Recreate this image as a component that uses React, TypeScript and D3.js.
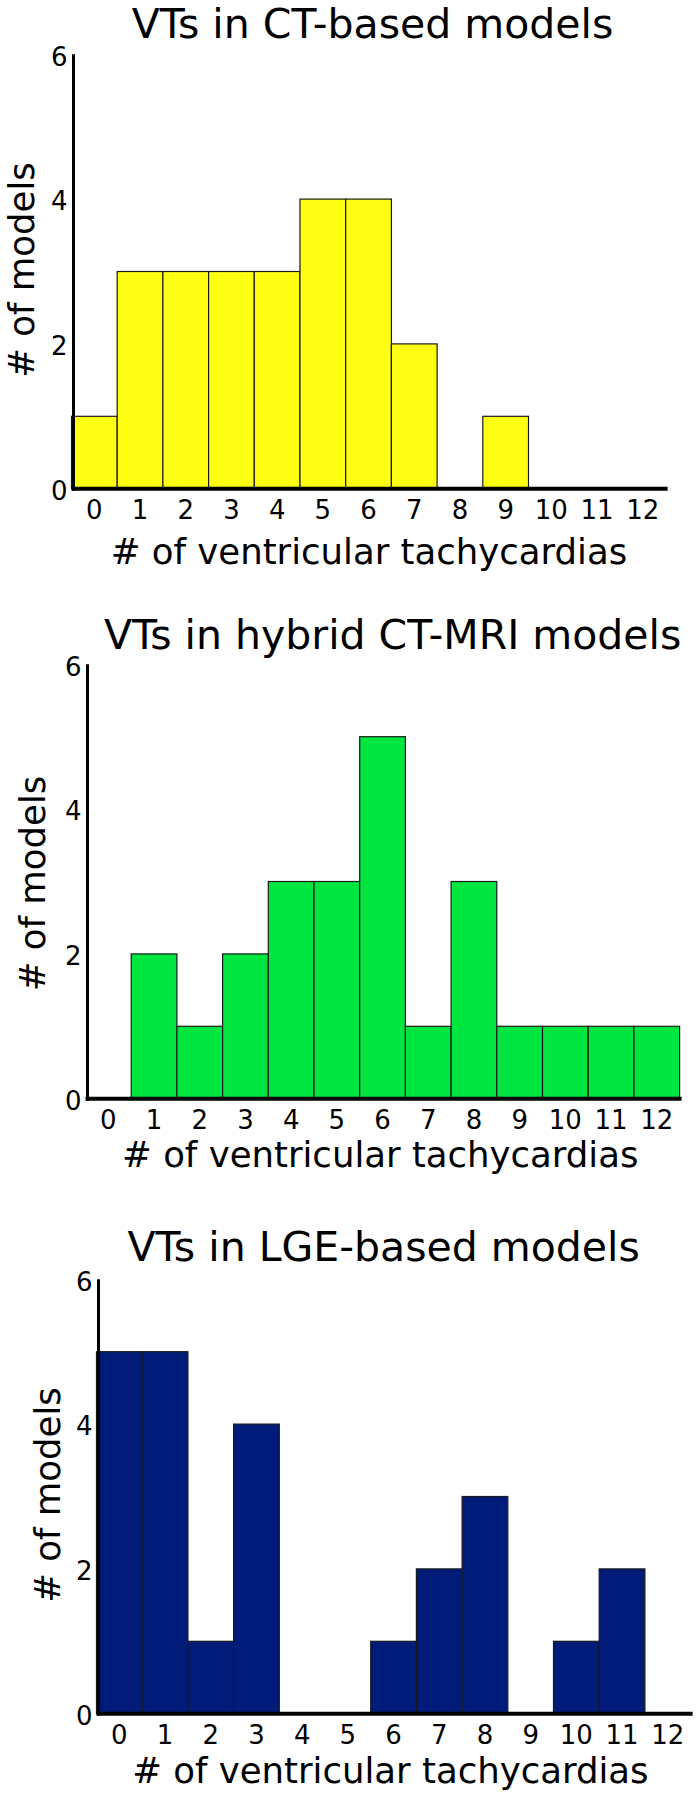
import React from "react";
import * as d3 from "d3";

const bins = [0, 1, 2, 3, 4, 5, 6, 7, 8, 9, 10, 11, 12];
const yTicks = [0, 2, 4, 6];
const ctCounts = [1, 3, 3, 3, 3, 4, 4, 2, 0, 1, 0, 0, 0];
const hybridCounts = [0, 2, 1, 2, 3, 3, 5, 1, 3, 1, 1, 1, 1];
const lgeCounts = [5, 5, 1, 4, 0, 0, 1, 2, 3, 0, 1, 2, 0];
const titles = ["VTs in CT-based models", "VTs in hybrid CT-MRI models", "VTs in LGE-based models"];
const xLabel = "# of ventricular tachycardias";
const yLabel = "# of models";

const FONT = "'DejaVu Sans', Verdana, sans-serif";

type Panel = {
  title: string;
  counts: number[];
  color: string;
  x0: number;
  base: number;
  titleX: number;
  titleY: number;
  xLabX: number;
  xLabY: number;
  yLabX: number;
  yLabY: number;
};

const panels: Panel[] = [
  { title: titles[0], counts: ctCounts, color: "#ffff14", x0: 71.5, base: 488.7, titleX: 372.5, titleY: 37.5, xLabX: 369, xLabY: 564, yLabX: 33.5, yLabY: 270 },
  { title: titles[1], counts: hybridCounts, color: "#00e640", x0: 85.5, base: 1098.7, titleX: 392.6, titleY: 649, xLabX: 380.3, xLabY: 1167, yLabX: 44.7, yLabY: 883.5 },
  { title: titles[2], counts: lgeCounts, color: "#001c78", x0: 96.5, base: 1713.7, titleX: 383.7, titleY: 1260.5, xLabX: 390.4, xLabY: 1783, yLabX: 60.4, yLabY: 1495 },
];

const BIN_W = 45.7;
const UNIT = 72.4;

function Hist({ p }: { p: Panel }) {
  const x = d3.scaleLinear().domain([0, bins.length]).range([p.x0, p.x0 + bins.length * BIN_W]);
  const y = d3.scaleLinear().domain([0, 6]).range([p.base, p.base - 6 * UNIT]);
  return (
    <g>
      <text x={p.titleX} y={p.titleY} textAnchor="middle" fontSize={41} fontFamily={FONT} fill="#000">
        {p.title}
      </text>
      {p.counts.map((c, i) =>
        c > 0 ? (
          <rect
            key={i}
            x={x(i)}
            y={y(c)}
            width={x(i + 1) - x(i)}
            height={y(0) - y(c)}
            fill={p.color}
            stroke="#1a1a1a"
            strokeWidth={1.2}
          />
        ) : null
      )}
      <line x1={p.x0 + 2} x2={p.x0 + 2} y1={y(6)} y2={y(0) + 2} stroke="#000" strokeWidth={3} />
      <line x1={p.x0} x2={x(bins.length) + 2} y1={y(0)} y2={y(0)} stroke="#000" strokeWidth={4} />
      {yTicks.map((t) => (
        <text key={t} x={p.x0 - 4} y={y(t) + 2} dy="0.36em" textAnchor="end" fontSize={26} fontFamily={FONT} fill="#000">
          {t}
        </text>
      ))}
      {bins.map((b, i) => (
        <text key={b} x={x(i + 0.5)} y={p.base + 21} dy="0.36em" textAnchor="middle" fontSize={26} fontFamily={FONT} fill="#000">
          {b}
        </text>
      ))}
      <text x={p.xLabX} y={p.xLabY} textAnchor="middle" fontSize={35.5} fontFamily={FONT} fill="#000">
        {xLabel}
      </text>
      <text
        transform={`translate(${p.yLabX},${p.yLabY}) rotate(-90)`}
        textAnchor="middle"
        fontSize={35.5}
        fontFamily={FONT}
        fill="#000"
      >
        {yLabel}
      </text>
    </g>
  );
}

export default function App() {
  return (
    <svg
      width={698}
      height={1800}
      viewBox="0 0 698 1800"
      style={{ position: "absolute", left: 0, top: 0, background: "#fff" }}
    >
      <rect x={0} y={0} width={698} height={1800} fill="#fff" />
      {panels.map((p, i) => (
        <Hist key={i} p={p} />
      ))}
    </svg>
  );
}
